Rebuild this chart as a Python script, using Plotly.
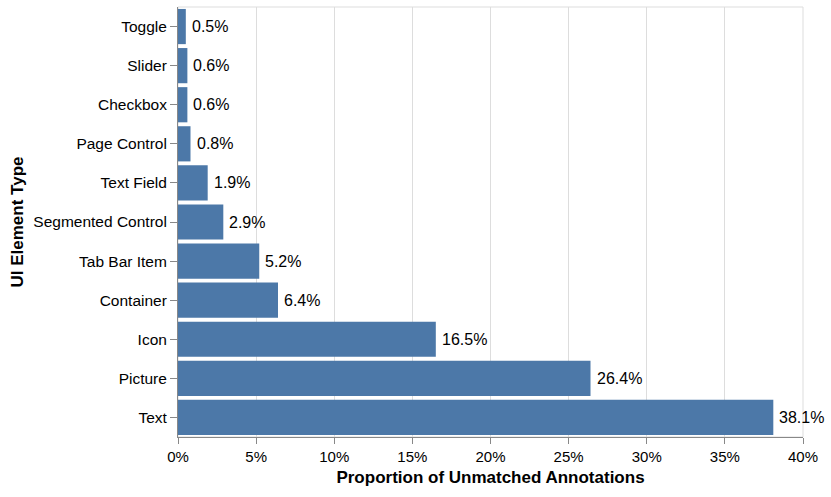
import plotly.graph_objects as go

categories = ["Toggle", "Slider", "Checkbox", "Page Control", "Text Field",
              "Segmented Control", "Tab Bar Item", "Container", "Icon", "Picture", "Text"]
values = [0.5, 0.6, 0.6, 0.8, 1.9, 2.9, 5.2, 6.4, 16.5, 26.4, 38.1]
x_ticks = [0, 5, 10, 15, 20, 25, 30, 35, 40]
x_tick_labels = [f"{t}%" for t in x_ticks]

FONT = "Liberation Sans, Arial, Helvetica, sans-serif"

fig = go.Figure()
fig.add_trace(go.Bar(
    y=categories, x=values, orientation="h",
    marker=dict(color="#4c78a8", line=dict(width=0)),
    width=0.9,
    hoverinfo="skip",
))

annotations = [
    dict(x=v, y=c, xref="x", yref="y", text=f"{v:.1f}%", showarrow=False,
         xanchor="left", yanchor="middle", xshift=4,
         font=dict(family=FONT, size=16, color="#000"))
    for c, v in zip(categories, values)
]

fig.update_layout(
    width=831, height=497,
    margin=dict(l=178, r=28, t=7, b=60),
    plot_bgcolor="white", paper_bgcolor="white",
    showlegend=False,
    font=dict(family=FONT, size=15, color="#000"),
    annotations=annotations,
    shapes=[dict(type="rect", xref="paper", yref="paper", x0=0, x1=1, y0=0, y1=1,
                 line=dict(color="#ddd", width=1), layer="below")],
)
fig.update_xaxes(
    range=[0, 40], tickvals=x_ticks, ticktext=x_tick_labels,
    showgrid=True, gridcolor="#ddd", gridwidth=1,
    showline=True, linecolor="#888", linewidth=1,
    ticks="outside", ticklen=6, tickcolor="#888",
    tickfont=dict(family=FONT, size=15, color="#000"),
    zeroline=False,
    title=dict(text="<b>Proportion of Unmatched Annotations</b>",
               font=dict(family=FONT, size=17, color="#000"), standoff=7),
    automargin=False,
)
fig.update_yaxes(
    categoryorder="array", categoryarray=categories, autorange="reversed",
    showgrid=False,
    showline=True, linecolor="#888", linewidth=1,
    ticks="outside", ticklen=7, tickcolor="#888",
    tickfont=dict(family=FONT, size=15.5, color="#000"),
    title=dict(text="<b>UI Element Type</b>",
               font=dict(family=FONT, size=17, color="#000"), standoff=5),
    automargin=False,
)

fig.write_html("out.html", config={"displayModeBar": False},
               post_script="document.body.style.margin='0';")
